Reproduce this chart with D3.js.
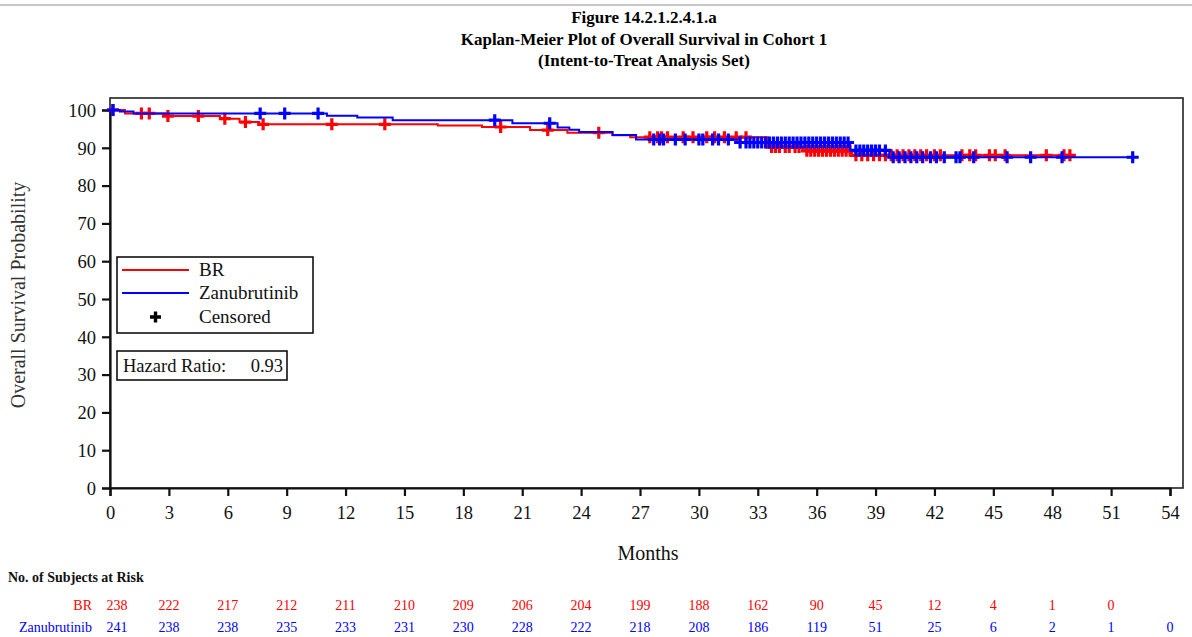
<!DOCTYPE html>
<html>
<head>
<meta charset="utf-8">
<script src="https://cdn.jsdelivr.net/npm/d3@7"></script>
<style>
  html, body { margin: 0; padding: 0; background: #fff; }
  svg { display: block; }
  text { font-family: "Liberation Serif", "Times New Roman", serif; }
</style>
</head>
<body>
<svg id="chart" width="1192" height="637"></svg>
<script>
// ---------------- data ----------------
const titleLines = ["Figure 14.2.1.2.4.1.a", "Kaplan-Meier Plot of Overall Survival in Cohort 1", "(Intent-to-Treat Analysis Set)"];
const monthTicks = [0,3,6,9,12,15,18,21,24,27,30,33,36,39,42,45,48,51,54];
const survTicks = [0,10,20,30,40,50,60,70,80,90,100];

// step points [month, survival %] (survival after the event at that month)
const brSteps = [[0,100],[0.76,99.1],[2.8,98.4],[5.6,97.7],[6.6,96.8],[7.6,96.2],[16.7,95.9],[18.95,95.5],[21.4,94.7],[23.3,94.0],[25.6,93.3],[26.5,92.8],[33.5,90.2],[35.3,89.2],[37.8,88.0]];
const brEnd = 48.9;
const zanuSteps = [[0,100],[0.5,99.6],[1.2,99.1],[11.05,98.5],[12.6,98.0],[14.4,97.3],[20.5,96.5],[22.8,95.4],[23.4,94.8],[23.9,94.2],[25.6,93.4],[26.8,92.2],[32.1,91.4],[37.7,89.3],[39.7,87.5]];
const zanuEnd = 52.1;

const brCensor = [0.15,1.6,2.0,2.95,4.5,5.85,6.9,7.8,11.3,14.0,19.9,22.3,24.9,27.5,27.9,28.1,28.4,29.2,29.7,30.4,30.8,31.3,31.9,32.4,
  33.7,33.9,34.1,34.4,34.6,34.9,35.1,35.5,35.7,35.9,36.1,36.3,36.5,36.7,36.9,37.1,37.3,37.5,37.7,
  38.0,38.3,38.6,38.9,39.2,39.5,39.8,40.1,40.4,40.7,41.0,41.3,41.6,42.0,42.3,43.4,43.8,44.1,44.8,45.1,45.6,47.7,48.6,48.9];
const zanuCensor = [0.15,7.65,8.9,10.6,19.6,22.4,27.7,28.0,28.2,28.8,29.3,30.0,30.2,30.7,31.0,31.5,32.1,
  32.4,32.6,32.8,33.0,33.2,33.4,33.6,33.8,34.0,34.2,34.4,34.6,34.8,35.0,35.2,35.4,35.6,35.8,36.0,36.2,36.4,36.6,36.8,37.0,37.2,37.4,37.6,
  38.0,38.2,38.4,38.6,38.8,39.0,39.2,39.5,39.9,40.2,40.5,40.8,41.1,41.4,41.8,42.1,42.5,43.1,43.3,44.0,45.7,46.9,48.5,52.1];

const riskLabels = ["BR", "Zanubrutinib"];
const brRisk = [238,222,217,212,211,210,209,206,204,199,188,162,90,45,12,4,1,0];
const zanuRisk = [241,238,238,235,233,231,230,228,222,218,208,186,119,51,25,6,2,1,0];
const hazardRatio = "0.93";

// ---------------- drawing ----------------
const RED = "#ff0000", BLUE = "#0000ff";
const svg = d3.select("#chart");

// top rule
svg.append("line").attr("x1",0).attr("x2",1192).attr("y1",5).attr("y2",5)
  .attr("stroke","#c8c8c8").attr("stroke-width",2);

// titles
svg.selectAll("text.title").data(titleLines).join("text")
  .attr("class","title")
  .attr("x",644).attr("y",(d,i)=>23+i*21.5)
  .attr("text-anchor","middle")
  .attr("font-weight","bold").attr("font-size",17)
  .text(d=>d);

const plotL = 110, plotR = 1183, plotT = 98, plotB = 488;
const x = d3.scaleLinear().domain([0,54]).range([110,1170]);
const y = d3.scaleLinear().domain([0,100]).range([488,110]);

// frame
svg.append("rect").attr("x",plotL).attr("y",plotT).attr("width",plotR-plotL).attr("height",plotB-plotT)
  .attr("fill","none").attr("stroke","#222").attr("stroke-width",1.6);

// axes
const xAxis = svg.append("g").attr("transform",`translate(0,${plotB})`)
  .call(d3.axisBottom(x).tickValues(monthTicks).tickSize(8).tickPadding(10).tickFormat(d3.format("d")));
const yAxis = svg.append("g").attr("transform",`translate(${plotL},0)`)
  .call(d3.axisLeft(y).tickValues(survTicks).tickSize(8).tickPadding(6).tickFormat(d3.format("d")));
[xAxis,yAxis].forEach(g=>{
  g.select(".domain").attr("stroke","#111").attr("stroke-width",2.2);
  g.selectAll(".tick line").attr("stroke","#111").attr("stroke-width",2.2);
  g.selectAll(".tick text").attr("font-family","Liberation Serif, serif").attr("font-size",18.5).attr("fill","#111");
});
yAxis.selectAll(".tick text").attr("dy","0.34em");

// axis titles
svg.append("text").attr("x",648).attr("y",560).attr("text-anchor","middle")
  .attr("font-size",20).attr("fill","#111").text("Months");
svg.append("text").attr("transform","translate(25,295) rotate(-90)").attr("text-anchor","middle")
  .attr("font-size",20).attr("fill","#333").text("Overall Survival Probability");

// KM curves
function survAt(steps, t){
  let s = steps[0][1];
  for (const p of steps){ if (p[0] <= t) s = p[1]; }
  return s;
}
const line = d3.line().x(d=>x(d[0])).y(d=>y(d[1])).curve(d3.curveStepAfter);
function drawArm(steps, end, censor, color){
  const pts = steps.concat([[end, steps[steps.length-1][1]]]);
  svg.append("path").attr("d",line(pts)).attr("fill","none").attr("stroke",color).attr("stroke-width",2);
  const g = svg.append("g");
  censor.forEach(t=>{
    const cx = x(t), cy = y(survAt(steps,t));
    g.append("path").attr("d",`M${cx-6},${cy}H${cx+6}M${cx},${cy-6}V${cy+6}`)
      .attr("stroke",color).attr("stroke-width",3.2).attr("fill","none");
  });
}
drawArm(brSteps, brEnd, brCensor, RED);
drawArm(zanuSteps, zanuEnd, zanuCensor, BLUE);

// legend
const lg = svg.append("g");
lg.append("rect").attr("x",117).attr("y",257).attr("width",196).attr("height",76)
  .attr("fill","#fff").attr("stroke","#111").attr("stroke-width",1.6);
lg.append("line").attr("x1",122).attr("x2",189).attr("y1",270).attr("y2",270).attr("stroke",RED).attr("stroke-width",2);
lg.append("line").attr("x1",122).attr("x2",189).attr("y1",293).attr("y2",293).attr("stroke",BLUE).attr("stroke-width",2);
lg.append("path").attr("d","M150,317H161M155.5,311.5V322.5").attr("stroke","#000").attr("stroke-width",3.4);
[["BR",270],["Zanubrutinib",293],["Censored",317]].forEach(([t,yy])=>{
  lg.append("text").attr("x",199).attr("y",yy+6).attr("font-size",19).attr("fill","#111").text(t);
});

// hazard ratio box
svg.append("rect").attr("x",117).attr("y",351).attr("width",170).attr("height",29)
  .attr("fill","#fff").attr("stroke","#111").attr("stroke-width",1.6);
svg.append("text").attr("x",123).attr("y",372).attr("font-size",18.5).attr("fill","#111")
  .text("Hazard Ratio:");
svg.append("text").attr("x",283).attr("y",372).attr("text-anchor","end").attr("font-size",18.5).attr("fill","#111")
  .text(hazardRatio);

// risk table
svg.append("text").attr("x",8).attr("y",582).attr("font-size",14).attr("font-weight","bold")
  .attr("fill","#111").text("No. of Subjects at Risk");
[[brRisk,RED,605],[zanuRisk,BLUE,627]].forEach(([vals,color,yy],r)=>{
  svg.append("text").attr("x",92).attr("y",yy+5).attr("text-anchor","end").attr("font-size",14)
    .attr("fill",color).text(riskLabels[r]);
  svg.append("g").selectAll("text").data(vals).join("text")
    .attr("x",(d,i)=> i===0 ? x(monthTicks[i])+7 : x(monthTicks[i]))
    .attr("y",yy+5).attr("text-anchor","middle").attr("font-size",14).attr("fill",color)
    .text(d=>d);
});
</script>
</body>
</html>
